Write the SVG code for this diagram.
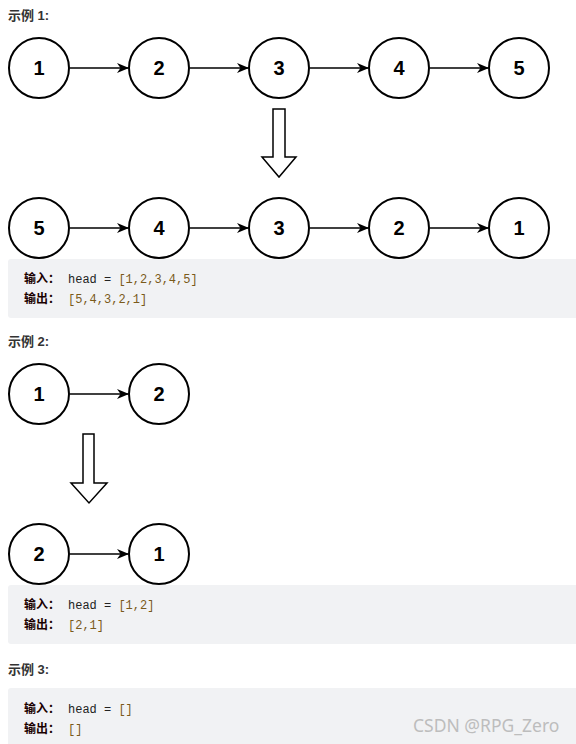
<svg xmlns="http://www.w3.org/2000/svg" width="576" height="744" viewBox="0 0 576 744">
<style>
.title{font-family:"Liberation Sans","Noto Sans CJK SC",sans-serif;font-size:13px;font-weight:bold;fill:#333}
.node circle{fill:#fff;stroke:#000;stroke-width:2}
.node text{font-family:"Liberation Sans",Arial,sans-serif;font-size:20px;font-weight:bold;fill:#000;text-anchor:middle}
.edge{stroke:#000;stroke-width:1.5;fill:none;marker-end:url(#ah)}
.big{fill:#fff;stroke:#000;stroke-width:1.5}
.box{fill:#f1f2f4}
.lbl{font-family:"Noto Sans CJK SC",sans-serif;font-size:12px;font-weight:bold;fill:#1a0000}
.code{font-family:"Liberation Mono","DejaVu Sans Mono",monospace;font-size:12px;fill:#222}
.val{fill:#7a5a1a}
.wm{font-family:"Noto Sans","Liberation Sans",sans-serif;font-size:17.5px;fill:#bdbdbd}
</style>
<defs>
<marker id="ah" markerWidth="12" markerHeight="12" refX="11" refY="6" orient="auto" markerUnits="userSpaceOnUse">
<path d="M0,1 L12,6 L0,11 L3.5,6 Z" fill="#000"/>
</marker>
</defs>
<rect width="576" height="744" fill="#fff"/>

<text class="title" x="8" y="20">示例 1:</text>

<g id="connectors">
<line class="edge" x1="70" y1="68" x2="128" y2="68"/>
<line class="edge" x1="190" y1="68" x2="248" y2="68"/>
<line class="edge" x1="310" y1="68" x2="368" y2="68"/>
<line class="edge" x1="430" y1="68" x2="488" y2="68"/>
<line class="edge" x1="70" y1="228" x2="128" y2="228"/>
<line class="edge" x1="190" y1="228" x2="248" y2="228"/>
<line class="edge" x1="310" y1="228" x2="368" y2="228"/>
<line class="edge" x1="430" y1="228" x2="488" y2="228"/>
<line class="edge" x1="70" y1="394" x2="128" y2="394"/>
<line class="edge" x1="70" y1="554" x2="128" y2="554"/>
<path class="big" d="M273,109 H285 V157 H296 L279,177 L262,157 H273 Z"/>
<path class="big" d="M83,434 H94 V483 H107 L89,503 L71,483 H83 Z"/>
</g>

<g id="n1a" class="node"><circle cx="39" cy="68" r="30"/><text x="39" y="75">1</text></g>
<g id="n2a" class="node"><circle cx="159" cy="68" r="30"/><text x="159" y="75">2</text></g>
<g id="n3a" class="node"><circle cx="279" cy="68" r="30"/><text x="279" y="75">3</text></g>
<g id="n4a" class="node"><circle cx="399" cy="68" r="30"/><text x="399" y="75">4</text></g>
<g id="n5a" class="node"><circle cx="519" cy="68" r="30"/><text x="519" y="75">5</text></g>

<g id="n5b" class="node"><circle cx="39" cy="228" r="30"/><text x="39" y="235">5</text></g>
<g id="n4b" class="node"><circle cx="159" cy="228" r="30"/><text x="159" y="235">4</text></g>
<g id="n3b" class="node"><circle cx="279" cy="228" r="30"/><text x="279" y="235">3</text></g>
<g id="n2b" class="node"><circle cx="399" cy="228" r="30"/><text x="399" y="235">2</text></g>
<g id="n1b" class="node"><circle cx="519" cy="228" r="30"/><text x="519" y="235">1</text></g>

<rect class="box" x="8" y="259" width="576" height="59" rx="3"/>
<text class="lbl" x="24" y="283">输入：</text>
<text class="code" x="68" y="283">head = <tspan class="val">[1,2,3,4,5]</tspan></text>
<text class="lbl" x="24" y="303">输出：</text>
<text class="code val" x="68" y="303">[5,4,3,2,1]</text>

<text class="title" x="8" y="346">示例 2:</text>

<g id="n1c" class="node"><circle cx="39" cy="394" r="30"/><text x="39" y="401">1</text></g>
<g id="n2c" class="node"><circle cx="159" cy="394" r="30"/><text x="159" y="401">2</text></g>
<g id="n2d" class="node"><circle cx="39" cy="554" r="30"/><text x="39" y="561">2</text></g>
<g id="n1d" class="node"><circle cx="159" cy="554" r="30"/><text x="159" y="561">1</text></g>

<rect class="box" x="8" y="585" width="576" height="59" rx="3"/>
<text class="lbl" x="24" y="609">输入：</text>
<text class="code" x="68" y="609">head = <tspan class="val">[1,2]</tspan></text>
<text class="lbl" x="24" y="629">输出：</text>
<text class="code val" x="68" y="629">[2,1]</text>

<text class="title" x="8" y="674">示例 3:</text>

<rect class="box" x="8" y="688" width="576" height="62" rx="3"/>
<text class="lbl" x="24" y="713">输入：</text>
<text class="code" x="68" y="713">head = <tspan class="val">[]</tspan></text>
<text class="lbl" x="24" y="733">输出：</text>
<text class="code val" x="68" y="733">[]</text>

<text class="wm" x="413" y="732">CSDN @RPG_Zero</text>
</svg>
